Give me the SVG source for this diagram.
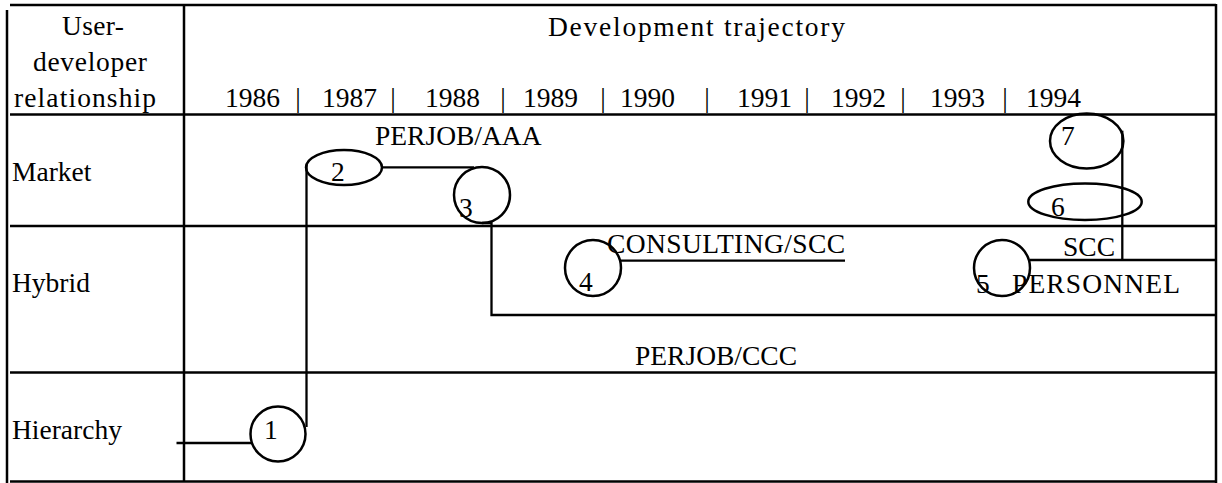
<svg xmlns="http://www.w3.org/2000/svg" width="1222" height="483" viewBox="0 0 1222 483">
<style>
text{font-family:"Liberation Serif","Times New Roman",serif;font-size:27.5px;fill:#000}
.grid line{stroke:#000;stroke-width:2.5;fill:none}
.node{fill:none;stroke:#000;stroke-width:2.5}
.conn path{stroke:#000;stroke-width:2.3;fill:none}
</style>
<rect width="1222" height="483" fill="#fff"/>
<g id="table" class="grid">
<line x1="10" y1="5" x2="1216" y2="5"/>
<line x1="7" y1="10" x2="7" y2="483"/>
<line x1="184" y1="5" x2="184" y2="482"/>
<line x1="1216" y1="4" x2="1216" y2="483"/>
<line x1="10" y1="114.5" x2="1216" y2="114.5"/>
<line x1="10" y1="226" x2="1216" y2="226"/>
<line x1="10" y1="372.5" x2="1216" y2="372.5"/>
<line x1="10" y1="481.5" x2="1216" y2="481.5"/>
</g>
<g id="header">
<text x="62" y="35" textLength="62">User-</text>
<text x="33" y="71" textLength="114">developer</text>
<text x="14" y="107" textLength="142">relationship</text>
<text x="548" y="36" textLength="297">Development trajectory</text>
<text x="225" y="107">1986</text>
<text x="322" y="107">1987</text>
<text x="425" y="107">1988</text>
<text x="523" y="107">1989</text>
<text x="620" y="107">1990</text>
<text x="737" y="107">1991</text>
<text x="831" y="107">1992</text>
<text x="930" y="107">1993</text>
<text x="1026" y="107">1994</text>
<g text-anchor="middle">
<text x="298" y="107">|</text>
<text x="393" y="107">|</text>
<text x="503" y="107">|</text>
<text x="603" y="107">|</text>
<text x="707" y="107">|</text>
<text x="807" y="107">|</text>
<text x="903" y="107">|</text>
<text x="1005" y="107">|</text>
</g>
</g>
<g id="rows">
<text x="12" y="181">Market</text>
<text x="12" y="292">Hybrid</text>
<text x="12" y="439">Hierarchy</text>
</g>
<g id="connectors" class="conn">
<path d="M176.5,443 H252"/>
<path d="M306.5,427 V165"/>
<path d="M381.5,167.3 H474"/>
<path d="M482,223 H491.5 V315 H1216"/>
<path d="M620,260.7 H845"/>
<path d="M1030,260 H1216"/>
<path d="M1122.3,130.7 V260"/>
</g>
<g id="n1"><circle class="node" cx="278" cy="434" r="27.5"/><text x="264" y="439">1</text></g>
<g id="n2"><ellipse class="node" cx="344" cy="167.5" rx="38" ry="17.5"/><text x="331" y="181">2</text></g>
<g id="n3"><circle class="node" cx="482" cy="195" r="28"/><text x="459" y="217">3</text></g>
<g id="n4"><circle class="node" cx="593" cy="268" r="28"/><text x="579" y="291">4</text></g>
<g id="n5"><circle class="node" cx="1002" cy="268" r="28"/><text x="976" y="293">5</text></g>
<g id="n6"><ellipse class="node" cx="1085" cy="201.7" rx="56.7" ry="18.3"/><text x="1051" y="216">6</text></g>
<g id="n7"><ellipse class="node" cx="1086.7" cy="141" rx="36.7" ry="27.5"/><text x="1061" y="145">7</text></g>
<g id="labels">
<text x="375" y="145">PERJOB/AAA</text>
<text x="607" y="253" textLength="238">CONSULTING/SCC</text>
<text x="635" y="365">PERJOB/CCC</text>
<text x="1063" y="256">SCC</text>
<text x="1012" y="293" textLength="168">PERSONNEL</text>
</g>
</svg>
